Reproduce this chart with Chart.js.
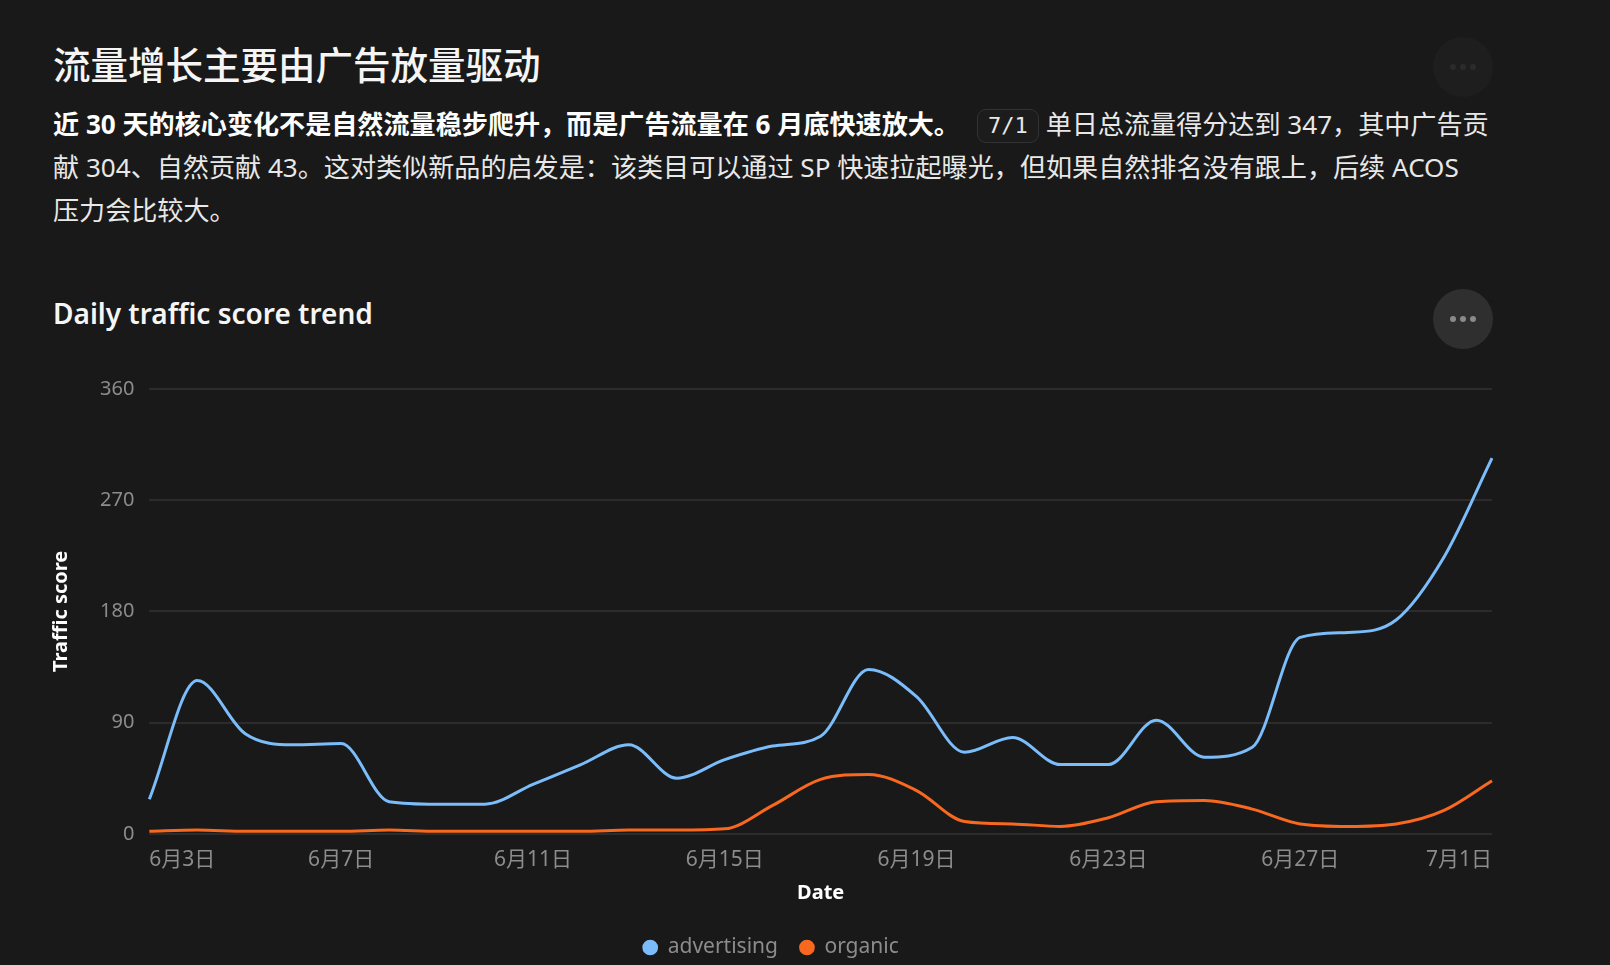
<!DOCTYPE html>
<html>
<head>
<meta charset="utf-8">
<script src="https://cdn.jsdelivr.net/npm/chart.js@4.4.1/dist/chart.umd.min.js"></script>
<style>
  html, body { margin: 0; padding: 0; background: #191919; }
  body { width: 1610px; height: 965px; position: relative; overflow: hidden;
         font-family: "Noto Sans", "Noto Sans CJK SC", sans-serif; color: #f2f2f2; }
  .h1 { position: absolute; left: 53px; top: 41px; font-size: 37.5px; line-height: 48px;
        font-weight: 500; color: #f5f5f5; white-space: nowrap; }
  .lead { position: absolute; left: 53px; top: 103px; font-size: 26.1px; line-height: 43px;
          color: #e8e8e8; white-space: nowrap; margin: 0; }
  .lead b { color: #ffffff; font-weight: 700; }
  .pill { display: inline-block; font-family: "DejaVu Sans Mono", monospace; font-size: 22px;
          line-height: 32px; padding: 0 10px; border: 1px solid #333; border-radius: 9px;
          background: #1c1c1c; color: #e8e8e8; margin: 0 7px 0 17px; vertical-align: 1px; }
  .h2 { position: absolute; left: 53px; top: 293px; font-size: 28px; line-height: 40px;
        font-weight: 600; color: #f5f5f5; white-space: nowrap; }
  .btn { position: absolute; width: 60px; height: 60px; border-radius: 50%;
         display: flex; align-items: center; justify-content: center; gap: 4px; }
  .btn i { display: block; width: 6px; height: 6px; border-radius: 50%; }
  .btn.faint { left: 1433px; top: 37px; background: #1e1e1e; }
  .btn.faint i { background: #2b2b2b; }
  .btn.solid { left: 1433px; top: 289px; background: #2f2f2f; }
  .btn.solid i { background: #8a8a8a; }
  .wrap { position: absolute; left: 45px; top: 362px; width: 1453px; height: 610px; }
</style>
</head>
<body>
<div class="h1">流量增长主要由广告放量驱动</div>
<div class="btn faint"><i></i><i></i><i></i></div>
<p class="lead"><b>近 30 天的核心变化不是自然流量稳步爬升，而是广告流量在 6 月底快速放大。</b><span class="pill">7/1</span>单日总流量得分达到 347，其中广告贡<br>献 304、自然贡献 43。这对类似新品的启发是：该类目可以通过 SP 快速拉起曝光，但如果自然排名没有跟上，后续 ACOS<br>压力会比较大。</p>
<div class="h2">Daily traffic score trend</div>
<div class="btn solid"><i></i><i></i><i></i></div>
<div class="wrap"><canvas id="trend"></canvas></div>
<script>
// 6月3日 .. 7月1日
const dates = [
  "6月3日", "6月4日", "6月5日", "6月6日", "6月7日", "6月8日", "6月9日", "6月10日",
  "6月11日", "6月12日", "6月13日", "6月14日", "6月15日", "6月16日", "6月17日", "6月18日",
  "6月19日", "6月20日", "6月21日", "6月22日", "6月23日", "6月24日", "6月25日", "6月26日",
  "6月27日", "6月28日", "6月29日", "6月30日", "7月1日"
];
const advertising = [28, 124, 81, 72, 73, 26, 24, 24, 40, 56, 72, 45, 60, 71, 79,
  133, 111, 66, 78, 56, 56, 92, 62, 70, 159, 163, 173, 224, 304];
const organic = [2, 3, 2, 2, 2, 3, 2, 2, 2, 2, 3, 3, 4, 23, 44,
  48, 35, 10, 8, 6, 13, 26, 27, 20, 8, 6, 8, 19, 43];
const yTicks = [0, 90, 180, 270, 360];

const font = "'Noto Sans', 'Noto Sans CJK SC', sans-serif";
Chart.defaults.font.family = font;

const ctx = document.getElementById("trend").getContext("2d");
new Chart(ctx, {
  type: "line",
  data: {
    labels: dates,
    datasets: [
      {
        label: "advertising",
        data: advertising,
        borderColor: "#7bbdfb",
        backgroundColor: "#7bbdfb",
        borderWidth: 3,
        pointRadius: 0,
        cubicInterpolationMode: "monotone",
      },
      {
        label: "organic",
        data: organic,
        borderColor: "#f8691f",
        backgroundColor: "#f8691f",
        borderWidth: 3,
        pointRadius: 0,
        cubicInterpolationMode: "monotone",
      },
    ],
  },
  options: {
    responsive: true,
    maintainAspectRatio: false,
    animation: false,
    layout: { padding: { left: 0, right: 1, top: 0, bottom: 4 } },
    plugins: {
      tooltip: { enabled: false },
      legend: {
        position: "bottom",
        labels: {
          usePointStyle: true,
          pointStyle: "circle",
          boxWidth: 14,
          boxHeight: 9,
          padding: 22,
          color: "#8c8c8c",
          font: { size: 21 },
        },
      },
    },
    scales: {
      x: {
        grid: { display: false },
        border: { display: false },
        title: { display: true, text: "Date", color: "#ffffff",
                 font: { size: 20, weight: "bold" }, padding: { top: 2, bottom: 10 } },
        ticks: {
          autoSkip: false,
          maxRotation: 0,
          align: "inner",
          color: "#8c8c8c",
          font: { size: 21 },
          padding: 6,
          callback: (v, i) => (i % 4 === 0 ? dates[i] : null),
        },
      },
      y: {
        min: yTicks[0],
        max: yTicks[yTicks.length - 1],
        afterBuildTicks: (axis) => { axis.ticks = yTicks.map((v) => ({ value: v })); },
        grid: { color: "#2c2c2c", lineWidth: 2, drawTicks: false },
        border: { display: false },
        title: { display: true, text: "Traffic score", color: "#ffffff",
                 font: { size: 20, weight: "bold" }, padding: { top: 4, bottom: 12 } },
        ticks: { color: "#8c8c8c", font: { size: 20 }, padding: 15 },
      },
    },
  },
});
</script>
</body>
</html>
